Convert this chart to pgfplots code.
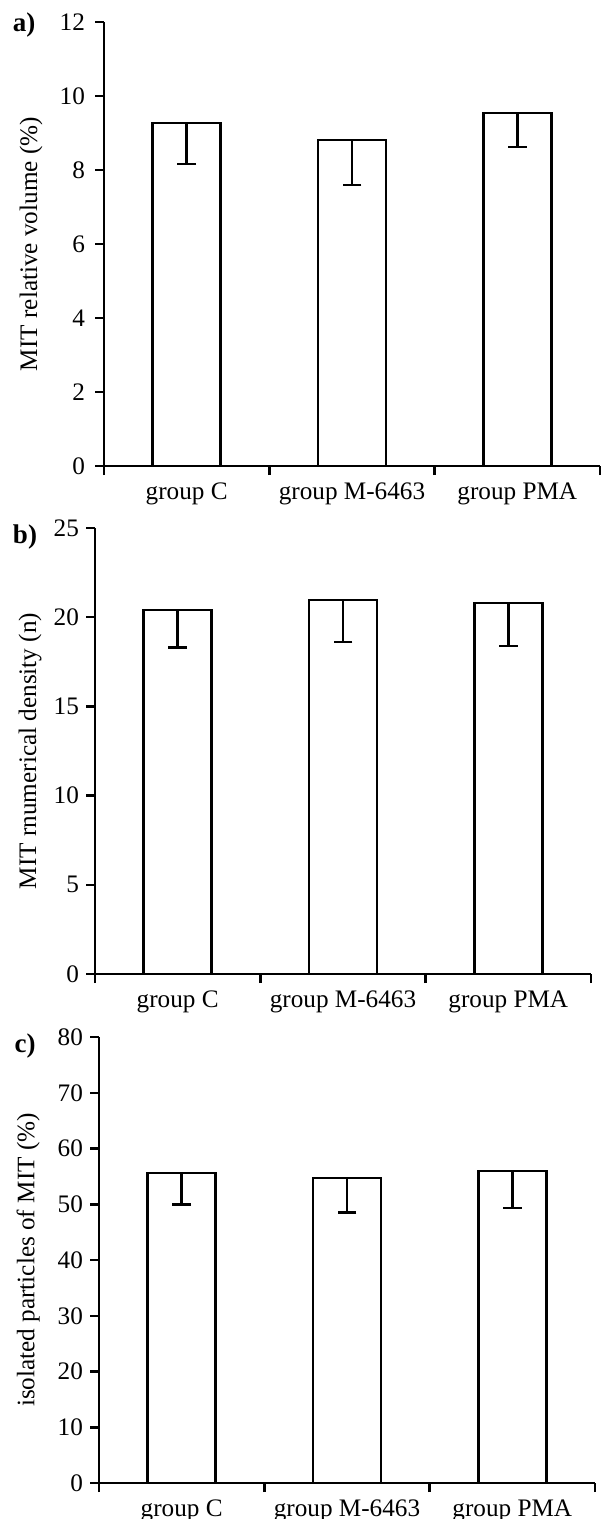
\documentclass[border=0pt]{standalone}
\usepackage{fontspec}
\setmainfont{Liberation Serif}
\usepackage{pgfplots}
\pgfplotsset{compat=1.18}

\pgfplotsset{
  panel/.style={
    scale only axis,
    width=248pt,
    xmin=0, xmax=3, ymin=0,
    axis lines*=left,
    axis line style={line width=1.25pt},
    tick align=outside,
    major tick length=4.5pt,
    tick style={line width=1.25pt,black},
    xtick={0,1,2,3},
    xticklabels={},
    extra x ticks={0.5,1.5,2.5},
    extra x tick labels={group C,group M-6463,group PMA},
    extra x tick style={major tick length=0pt,
      tick label style={anchor=base,yshift=-16.5pt}},
    ybar, bar width=34pt,
    font=\fontsize{12.6}{14}\selectfont,
    tick label style={font=\fontsize{12.6}{14}\selectfont},
    /pgf/number format/assume math mode=true,
    ylabel style={anchor=center,font=\fontsize{12.6}{14}\selectfont},
    clip=false,
  },
  barplot/.style={
    fill=white, draw=black, line width=1.2pt, bar shift=0pt,
    error bars/.cd, y dir=minus, y explicit,
    error bar style={line width=1.25pt},
    error mark options={rotate=90,mark size=4.7pt,line width=1.25pt},
  },
}

\begin{document}
\begin{tikzpicture}
\useasboundingbox (0,0) rectangle (300pt,-759.5pt);

% a) relative volume
\begin{axis}[panel, at={(52pt,-233pt)}, anchor=south west,
  height=222pt, ymax=12, ytick={0,2,...,12},
  yticklabel style={xshift=-1.5pt},
  ylabel={MIT relative volume (\%)},
  ylabel style={at={(axis description cs:-0.147,0.5)}}]
\addplot[barplot] coordinates {
  (0.5,9.27) +- (0,1.11)
  (1.5,8.81) +- (0,1.22)
  (2.5,9.54) +- (0,0.92)
};
\end{axis}

% b) numerical density
\begin{axis}[panel, at={(47.5pt,-487pt)}, anchor=south west,
  height=223pt, ymax=25, ytick={0,5,...,25},
  ylabel={MIT rnumerical density (n)},
  ylabel style={at={(axis description cs:-0.131,0.5)}}]
\addplot[barplot] coordinates {
  (0.5,20.40) +- (0,2.10)
  (1.5,20.96) +- (0,2.36)
  (2.5,20.80) +- (0,2.40)
};
\end{axis}

% c) isolated particles
\begin{axis}[panel, at={(49.5pt,-741.5pt)}, anchor=south west,
  height=223pt, ymax=80, ytick={0,10,...,80},
  ylabel={isolated particles of MIT (\%)},
  ylabel style={at={(axis description cs:-0.143,0.5)}}]
\addplot[barplot] coordinates {
  (0.5,55.6) +- (0,5.6)
  (1.5,54.7) +- (0,6.2)
  (2.5,56.0) +- (0,6.7)
};
\end{axis}

\node[font=\bfseries\fontsize{13.5}{15}\selectfont] at (12pt,-12.5pt) {a)};
\node[font=\bfseries\fontsize{13.5}{15}\selectfont] at (12.5pt,-268.5pt) {b)};
\node[font=\bfseries\fontsize{13.5}{15}\selectfont] at (12.5pt,-523pt) {c)};
\end{tikzpicture}
\end{document}
